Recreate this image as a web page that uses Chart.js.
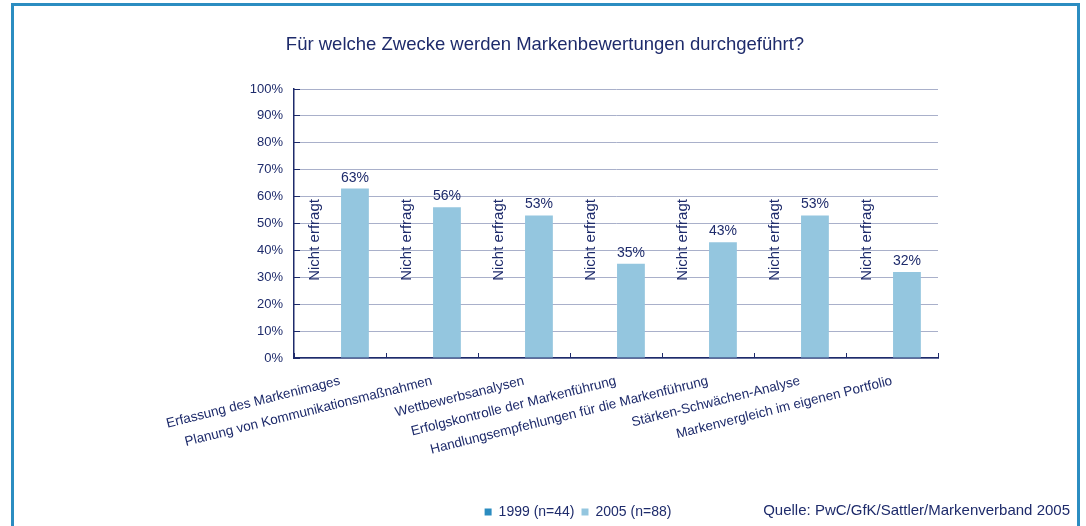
<!DOCTYPE html>
<html>
<head>
<meta charset="utf-8">
<script src="https://cdn.jsdelivr.net/npm/chart.js@4/dist/chart.umd.min.js"></script>
<style>
  html, body { margin: 0; padding: 0; background: #fff; overflow: hidden; }
  #frame { position: absolute; left: 11px; top: 3px; width: 1063px; height: 600px; border: 3px solid #2b8dc1; }
  #chartCanvas { position: absolute; left: 0; top: 0; }
</style>
</head>
<body>
<div id="frame"></div>
<canvas id="chartCanvas" width="1086" height="526"></canvas>
<script>
const categories = [
  "Erfassung des Markenimages",
  "Planung von Kommunikationsmaßnahmen",
  "Wettbewerbsanalysen",
  "Erfolgskontrolle der Markenführung",
  "Handlungsempfehlungen für die Markenführung",
  "Stärken-Schwächen-Analyse",
  "Markenvergleich im eigenen Portfolio"
];
const values1999 = [null, null, null, null, null, null, null]; // not asked in 1999
const values2005 = [63, 56, 53, 35, 43, 53, 32];
const notAskedLabel = "Nicht erfragt";
const seriesNames = ["1999 (n=44)", "2005 (n=88)"];
const titleText = "Für welche Zwecke werden Markenbewertungen durchgeführt?";
const sourceText = "Quelle: PwC/GfK/Sattler/Markenverband 2005";

const navy = "#1e2b6b";
const font = "'Liberation Sans', Arial, sans-serif";

// title, labels on the bars, "Nicht erfragt" notes, source line
const labelPlugin = {
  id: "labels",
  afterDatasetsDraw(chart) {
    const ctx = chart.ctx;
    const y = chart.scales.y;
    ctx.save();
    ctx.fillStyle = navy;
    ctx.font = "14px " + font;

    const meta2005 = chart.getDatasetMeta(1);
    meta2005.data.forEach((bar, i) => {
      ctx.textAlign = "center";
      ctx.textBaseline = "alphabetic";
      ctx.fillText(values2005[i] + "%", bar.x, bar.y - 7);
    });

    ctx.font = "15px " + font;
    const meta1999 = chart.getDatasetMeta(0);
    meta1999.data.forEach((bar, i) => {
      if (values1999[i] !== null) return;
      ctx.save();
      ctx.translate(bar.x - 10, y.getPixelForValue(28.7));
      ctx.rotate(-Math.PI / 2);
      ctx.textAlign = "left";
      ctx.textBaseline = "middle";
      ctx.fillText(notAskedLabel, 0, 0);
      ctx.restore();
    });
    ctx.restore();
  },
  afterDraw(chart) {
    const ctx = chart.ctx;
    ctx.save();
    ctx.fillStyle = navy;
    ctx.textBaseline = "middle";
    ctx.textAlign = "center";
    ctx.font = "18.5px " + font;
    ctx.fillText(titleText, 545, 45);
    ctx.textAlign = "right";
    ctx.font = "15px " + font;
    ctx.fillText(sourceText, 1070, 511);
    ctx.restore();
  }
};

new Chart(document.getElementById("chartCanvas"), {
  type: "bar",
  data: {
    labels: categories,
    datasets: [
      { label: seriesNames[0], data: values1999, backgroundColor: "#2b8cc0" },
      { label: seriesNames[1], data: values2005, backgroundColor: "#94c6df" }
    ]
  },
  options: {
    responsive: false,
    animation: false,
    devicePixelRatio: 1,
    categoryPercentage: 0.65,
    barPercentage: 0.93,
    layout: { padding: { left: 218, right: 148, top: 89, bottom: -3 } },
    plugins: {
      title: { display: false },
      legend: {
        position: "bottom",
        labels: {
          color: navy,
          font: { family: font, size: 14 },
          boxWidth: 7,
          boxHeight: 7,
          padding: 7
        }
      },
      tooltip: { enabled: false }
    },
    scales: {
      x: {
        grid: {
          display: true,
          drawOnChartArea: false,
          tickLength: -5,
          tickColor: navy
        },
        border: { color: navy, width: 1.5 },
        ticks: {
          color: navy,
          font: { family: font, size: 13.5 },
          autoSkip: false,
          minRotation: 14,
          maxRotation: 14,
          padding: 20
        },
        afterFit(scale) { scale.height = 140; }
      },
      y: {
        min: 0,
        max: 100,
        ticks: {
          stepSize: 10,
          color: navy,
          font: { family: font, size: 13 },
          padding: 17,
          callback: v => v + "%"
        },
        grid: {
          color: "#a9b0ca",
          tickLength: -6,
          tickColor: navy
        },
        border: { color: navy, width: 1.5 },
        afterFit(scale) { scale.width = 76; }
      }
    }
  },
  plugins: [labelPlugin]
});
</script>
</body>
</html>
